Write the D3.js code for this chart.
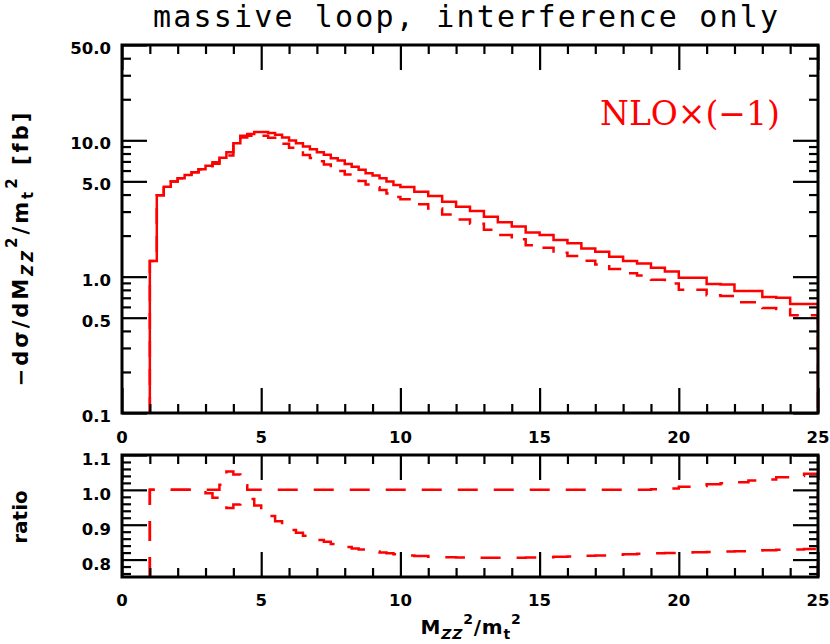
<!DOCTYPE html>
<html><head><meta charset="utf-8">
<script src="https://cdn.jsdelivr.net/npm/d3@7"></script>
<style>body{margin:0;background:#fff} svg{display:block}</style>
</head><body>
<svg id="c" width="830" height="644"></svg>
<script>
// ---------------- data ----------------
const binEdges = [1.00,1.25,1.50,1.75,2.00,2.25,2.50,2.75,3.00,3.25,3.50,3.75,4.00,4.25,4.50,4.75,5.00,5.25,5.50,5.75,
  6.00,6.25,6.50,6.75,7.00,7.25,7.50,7.75,8.00,8.25,8.50,8.75,9.00,9.25,9.50,9.75,10.0,10.5,11.0,11.5,12.0,12.5,13.0,13.5,
  14.0,14.5,15.0,15.5,16.0,16.5,17.0,17.5,18.0,18.5,19.0,19.5,20.0,20.5,21.0,21.5,22.0,22.5,23.0,23.5,24.0,24.5,25.0];
// solid histogram: NLO x (-1)
const nloSolid = [1.30,3.96,4.57,4.98,5.27,5.57,5.83,6.14,6.52,6.90,7.46,8.18,9.52,10.8,11.1,11.5,11.5,11.3,11.0,10.5,
  9.95,9.52,9.00,8.60,8.19,7.82,7.39,7.10,6.71,6.41,6.07,5.74,5.51,5.27,4.98,4.71,4.55,4.20,3.91,3.55,3.25,3.03,2.75,2.51,
  2.33,2.11,2.02,1.86,1.76,1.61,1.52,1.40,1.30,1.25,1.16,1.09,0.98,0.98,0.885,0.875,0.785,0.785,0.71,0.70,0.63,0.63];
// dashed histogram
const nloDashed = [1.30,3.96,4.57,4.98,5.27,5.57,5.83,6.14,6.45,6.74,7.20,7.75,9.12,10.47,10.8,11.0,10.8,10.45,10.0,9.42,
  8.81,8.35,7.81,7.41,7.01,6.65,6.24,5.96,5.61,5.33,5.03,4.74,4.53,4.32,4.07,3.84,3.69,3.40,3.16,2.86,2.62,2.44,2.21,2.02,
  1.88,1.70,1.63,1.50,1.42,1.31,1.23,1.14,1.06,1.02,0.95,0.89,0.80,0.80,0.73,0.72,0.65,0.65,0.59,0.58,0.52,0.52];
// ratio panel curves
const ratioUpper = [1.0,1.0,1.0,1.0,1.0,1.0,1.0,1.0,1.0,1.0,1.015,1.053,1.044,1.013,1.0,1.0,1.0,1.0,1.0,1.0,
  1.0,1.0,1.0,1.0,1.0,1.0,1.0,1.0,1.0,1.0,1.0,1.0,1.0,1.0,1.0,1.0,1.0,1.0,1.0,1.0,1.0,1.0,1.0,1.0,
  1.0,1.0,1.0,1.0,1.0,1.0,1.0,1.0,1.0,1.0,1.002,1.004,1.009,1.011,1.016,1.019,1.022,1.027,1.030,1.036,1.040,1.046];
const ratioLower = [1.0,1.0,1.0,1.0,1.0,1.0,1.0,1.0,0.99,0.977,0.965,0.948,0.958,0.969,0.974,0.955,0.94,0.925,0.91,0.897,
  0.885,0.877,0.868,0.862,0.856,0.851,0.845,0.840,0.836,0.832,0.829,0.826,0.823,0.820,0.818,0.815,0.812,0.810,0.808,0.807,
  0.806,0.805,0.805,0.805,0.805,0.806,0.807,0.808,0.809,0.811,0.812,0.814,0.815,0.817,0.818,0.819,0.820,0.821,0.822,0.823,
  0.824,0.826,0.827,0.828,0.829,0.830];

const xTicksMajor = [0,5,10,15,20,25];
const xTicksMinor = [1,2,3,4,6,7,8,9,11,12,13,14,16,17,18,19,21,22,23,24];
const yTicksMajor = [0.1,0.5,1,5,10,50];
const yTicksMinor = [0.2,0.3,0.4,0.6,0.7,0.8,0.9,2,3,4,6,7,8,9,20,30,40];
const yTickLabels = ["0.1","0.5","1.0","5.0","10.0","50.0"];
const rTicksMajor = [0.8,0.9,1.0,1.1];
const rTicksMinor = [0.76,0.78,0.82,0.84,0.86,0.88,0.92,0.94,0.96,0.98,1.02,1.04,1.06,1.08];
const rTickLabels = ["0.8","0.9","1.0","1.1"];

// ---------------- layout ----------------
const svg = d3.select("#c");
const L = 122, R = 818;
const top1 = 45, bot1 = 413;
const top2 = 455, bot2 = 577;
const RED = "#ff0000";
const FONT = "DejaVu Sans";

const x = d3.scaleLinear().domain([0,25]).range([L,R]);
const y = d3.scaleLog().domain([0.1,50]).range([bot1,top1]);
const yr = d3.scaleLinear().domain([0.75,1.1]).range([bot2,top2]);

function stepPoints(vals, base){
  const pts = [[binEdges[0], base]];
  vals.forEach((v,i)=>{ pts.push([binEdges[i], v]); pts.push([binEdges[i+1], v]); });
  pts.push([binEdges[binEdges.length-1], base]);
  return pts;
}

// clip paths
const defs = svg.append("defs");
defs.append("clipPath").attr("id","cp1").append("rect").attr("x",L).attr("y",top1).attr("width",R-L).attr("height",bot1-top1);
defs.append("clipPath").attr("id","cp2").append("rect").attr("x",L).attr("y",top2).attr("width",R-L).attr("height",bot2-top2);

// ---------- top panel curves ----------
const line1 = d3.line().x(d=>x(d[0])).y(d=>y(d[1]));
const g1 = svg.append("g").attr("clip-path","url(#cp1)");
g1.append("path").attr("d", line1(stepPoints(nloDashed, 0.1)))
  .attr("fill","none").attr("stroke",RED).attr("stroke-width",2.5).attr("stroke-dasharray","16,12");
g1.append("path").attr("d", line1(stepPoints(nloSolid, 0.1)))
  .attr("fill","none").attr("stroke",RED).attr("stroke-width",2.5);

// ---------- ratio curves ----------
const line2 = d3.line().x(d=>x(d[0])).y(d=>yr(d[1]));
const g2 = svg.append("g").attr("clip-path","url(#cp2)");
[ratioUpper, ratioLower].forEach(arr=>{
  g2.append("path").attr("d", line2(stepPoints(arr, 0.75)))
    .attr("fill","none").attr("stroke",RED).attr("stroke-width",2.5).attr("stroke-dasharray","20,16");
});

// ---------- ticks ----------
function ticks(gen, tr, vals, size){
  const g = svg.append("g").attr("transform", tr)
    .call(gen.tickValues(vals).tickSize(size).tickFormat(""));
  g.select(".domain").remove();
  g.selectAll(".tick line").attr("stroke","#000").attr("stroke-width",2.2);
}
const MAJ = -25, MIN = -9;
// top panel
ticks(d3.axisBottom(x), `translate(0,${bot1})`, xTicksMajor, MAJ);
ticks(d3.axisBottom(x), `translate(0,${bot1})`, xTicksMinor, MIN);
ticks(d3.axisTop(x), `translate(0,${top1})`, xTicksMajor, MAJ);
ticks(d3.axisTop(x), `translate(0,${top1})`, xTicksMinor, MIN);
ticks(d3.axisLeft(y), `translate(${L},0)`, yTicksMajor, MAJ);
ticks(d3.axisLeft(y), `translate(${L},0)`, yTicksMinor, MIN);
ticks(d3.axisRight(y), `translate(${R},0)`, yTicksMajor, MAJ);
ticks(d3.axisRight(y), `translate(${R},0)`, yTicksMinor, MIN);
// ratio panel
ticks(d3.axisBottom(x), `translate(0,${bot2})`, xTicksMajor, MAJ);
ticks(d3.axisBottom(x), `translate(0,${bot2})`, xTicksMinor, MIN);
ticks(d3.axisTop(x), `translate(0,${top2})`, xTicksMajor, MAJ);
ticks(d3.axisTop(x), `translate(0,${top2})`, xTicksMinor, MIN);
ticks(d3.axisLeft(yr), `translate(${L},0)`, rTicksMajor, MAJ);
ticks(d3.axisLeft(yr), `translate(${L},0)`, rTicksMinor, MIN);
ticks(d3.axisRight(yr), `translate(${R},0)`, rTicksMajor, MAJ);
ticks(d3.axisRight(yr), `translate(${R},0)`, rTicksMinor, MIN);

// frames
[[top1,bot1],[top2,bot2]].forEach(([t,b])=>{
  svg.append("rect").attr("x",L).attr("y",t).attr("width",R-L).attr("height",b-t)
    .attr("fill","none").attr("stroke","#000").attr("stroke-width",3);
});

// ---------- tick labels ----------
const lab = svg.append("g").attr("font-family",FONT).attr("font-weight","bold").attr("font-size",16.5).attr("fill","#000");
xTicksMajor.forEach(v=>{
  lab.append("text").attr("x",x(v)).attr("y",bot1+30).attr("text-anchor","middle").text(v);
  lab.append("text").attr("x",x(v)).attr("y",bot2+29).attr("text-anchor","middle").text(v);
});
yTicksMajor.forEach((v,i)=>{
  lab.append("text").attr("x",111).attr("y",y(v)+9).attr("text-anchor","end").text(yTickLabels[i]);
});
rTicksMajor.forEach((v,i)=>{
  lab.append("text").attr("x",111).attr("y",yr(v)+10).attr("text-anchor","end").text(rTickLabels[i]);
});

// ---------- titles ----------
svg.append("text").attr("x",153).attr("y",27).attr("font-family","DejaVu Sans Mono")
  .attr("font-size",30).attr("textLength",625).attr("lengthAdjust","spacing")
  .text("massive loop, interference only");

svg.append("text").attr("x",600).attr("y",125).attr("font-family","DejaVu Serif")
  .attr("font-size",33).attr("fill",RED).text("NLO\u00d7(\u22121)");

// y title (rotated)
const yt = svg.append("text").attr("transform","translate(28,248) rotate(-90)")
  .attr("text-anchor","middle").attr("font-family",FONT).attr("font-weight","bold").attr("font-size",21)
  .attr("letter-spacing",3);
yt.append("tspan").text("\u2212d\u03c3/dM");
yt.append("tspan").attr("font-size",15).attr("dy",5).attr("font-style","italic").text("ZZ");
yt.append("tspan").attr("font-size",15).attr("dy",-16).text("2");
yt.append("tspan").attr("dy",11).text("/m");
yt.append("tspan").attr("font-size",15).attr("dy",5).text("t");
yt.append("tspan").attr("font-size",15).attr("dy",-16).text("2");
yt.append("tspan").attr("dy",11).text(" [fb]");

svg.append("text").attr("transform","translate(27,517) rotate(-90)")
  .attr("text-anchor","middle").attr("font-family",FONT).attr("font-weight","bold").attr("font-size",20)
  .text("ratio");

// x title
const xt = svg.append("text").attr("x",471).attr("y",634)
  .attr("text-anchor","middle").attr("font-family",FONT).attr("font-weight","bold").attr("font-size",20)
  .attr("letter-spacing",0.8);
xt.append("tspan").text("M");
xt.append("tspan").attr("font-size",14).attr("dy",5).attr("font-style","italic").text("ZZ");
xt.append("tspan").attr("font-size",14).attr("dy",-15).text("2");
xt.append("tspan").attr("dy",10).text("/m");
xt.append("tspan").attr("font-size",14).attr("dy",5).text("t");
xt.append("tspan").attr("font-size",14).attr("dy",-15).text("2");
</script>
</body></html>
